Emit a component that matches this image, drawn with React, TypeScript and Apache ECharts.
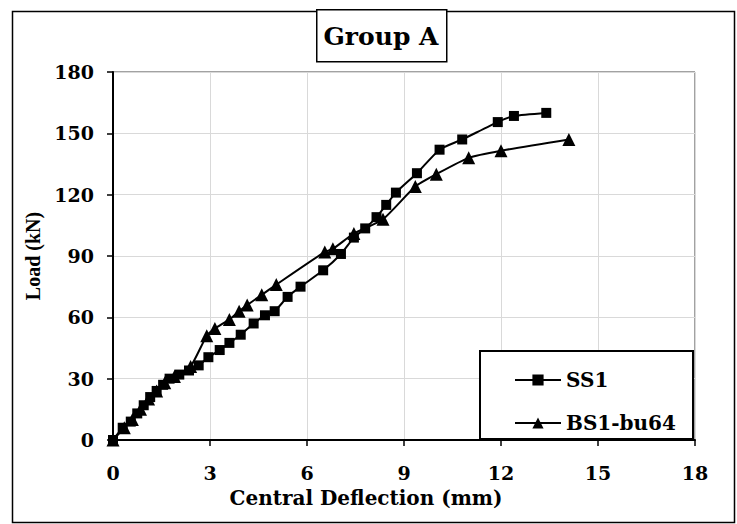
import React, { useEffect, useRef } from "react";
import * as echarts from "echarts";

const ss1: [number, number][] = [
  [0, 0], [0.3, 6], [0.55, 9], [0.75, 13], [0.95, 17], [1.15, 21], [1.35, 24],
  [1.55, 27], [1.75, 30], [2.05, 32], [2.35, 34], [2.65, 36.5], [2.95, 40.5],
  [3.3, 44], [3.6, 47.5], [3.95, 51.5], [4.35, 57], [4.7, 61], [5.0, 63],
  [5.4, 70], [5.8, 75], [6.5, 83], [7.05, 91], [7.45, 99], [7.8, 103.5],
  [8.15, 109], [8.45, 115], [8.75, 121], [9.4, 130.5], [10.1, 142],
  [10.8, 147], [11.9, 155.5], [12.4, 158.5], [13.4, 160],
];

const bs1: [number, number][] = [
  [0, 0], [0.35, 6], [0.6, 10], [0.85, 15], [1.1, 20], [1.35, 24], [1.6, 28],
  [1.9, 31], [2.4, 36], [2.9, 51], [3.15, 54.5], [3.6, 59], [3.9, 63],
  [4.15, 66], [4.6, 71], [5.05, 76], [6.55, 92], [6.8, 93.5], [7.45, 101],
  [8.35, 108], [9.35, 124], [10.0, 130], [11.0, 138], [12.0, 141.5],
  [14.1, 147],
];

const xTicks = [0, 3, 6, 9, 12, 15, 18];
const yTicks = [0, 30, 60, 90, 120, 150, 180];

const WIDE = "'DejaVu Serif', serif";
const TIMES = "'Liberation Serif', 'Times New Roman', serif";

export default function App() {
  const ref = useRef<HTMLDivElement>(null);
  useEffect(() => {
    if (!ref.current) return;
    const chart = echarts.init(ref.current, undefined, { renderer: "svg" });
    chart.setOption({
      animation: false,
      backgroundColor: "#fff",
      grid: {
        left: 113, top: 72, width: 582, height: 368,
        show: true, borderColor: "#444", borderWidth: 1, backgroundColor: "#fff",
      },
      xAxis: {
        type: "value", min: xTicks[0], max: xTicks[xTicks.length - 1], interval: 3,
        axisLine: { onZero: false, lineStyle: { color: "#000", width: 2 } },
        axisTick: { show: true, inside: false, length: 6, lineStyle: { color: "#000", width: 1.5 } },
        axisLabel: { margin: 23, fontFamily: WIDE, fontWeight: "bold", fontSize: 19, color: "#000" },
        splitLine: { show: true, lineStyle: { color: "#d9d9d9", width: 1 } },
      },
      yAxis: {
        type: "value", min: yTicks[0], max: yTicks[yTicks.length - 1], interval: 30,
        name: "Load (kN)", nameLocation: "middle", nameGap: 70, nameRotate: 90,
        nameTextStyle: { fontFamily: TIMES, fontWeight: "bold", fontSize: 20, color: "#000" },
        axisLine: { onZero: false, lineStyle: { color: "#000", width: 2 } },
        axisTick: { show: true, inside: false, length: 6, lineStyle: { color: "#000", width: 1.5 } },
        axisLabel: { margin: 19, fontFamily: WIDE, fontWeight: "bold", fontSize: 19, color: "#000" },
        splitLine: { show: true, lineStyle: { color: "#d9d9d9", width: 1 } },
      },
      legend: {
        orient: "vertical", left: 509, top: 365, itemGap: 23, itemWidth: 46, itemHeight: 14,
        z: 20,
        textStyle: { fontFamily: WIDE, fontWeight: "bold", fontSize: 20, color: "#000" },
        data: ["SS1", "BS1-bu64"],
      },
      graphic: [
        {
          type: "rect", left: 10, top: 9, z: 0, silent: true,
          shape: { width: 722, height: 511 },
          style: { fill: "none", stroke: "#000", lineWidth: 1.5 },
        },
        {
          type: "rect", left: 316, top: 9, z: 10,
          shape: { width: 130, height: 52 },
          style: { fill: "#fff", stroke: "#000", lineWidth: 1.5 },
        },
        {
          type: "text", x: 381, y: 36, z: 11,
          style: {
            text: "Group A", fontFamily: WIDE, fontWeight: "bold", fontSize: 25,
            fill: "#000", align: "center", verticalAlign: "middle",
          },
        },
        {
          type: "text", x: 366, y: 498, z: 11,
          style: {
            text: "Central Deflection (mm)", fontFamily: WIDE, fontWeight: "bold", fontSize: 20,
            fill: "#000", align: "center", verticalAlign: "middle",
          },
        },
        {
          type: "rect", left: 479, top: 350, z: 5,
          shape: { width: 213, height: 88 },
          style: { fill: "#fff", stroke: "#000", lineWidth: 2 },
        },
      ],
      series: [
        {
          name: "SS1", type: "line", data: ss1, smooth: 0.2,
          symbol: "rect", symbolSize: 10, showAllSymbol: true,
          lineStyle: { color: "#000", width: 2 },
          itemStyle: { color: "#000" },
          z: 3,
        },
        {
          name: "BS1-bu64", type: "line", data: bs1, smooth: 0.2,
          symbol: "triangle", symbolSize: 13, showAllSymbol: true,
          lineStyle: { color: "#000", width: 2 },
          itemStyle: { color: "#000" },
          z: 3,
        },
      ],
    });
    return () => chart.dispose();
  }, []);
  return (
    <div
      ref={ref}
      style={{ position: "absolute", left: 0, top: 0, width: 737, height: 524 }}
    />
  );
}
